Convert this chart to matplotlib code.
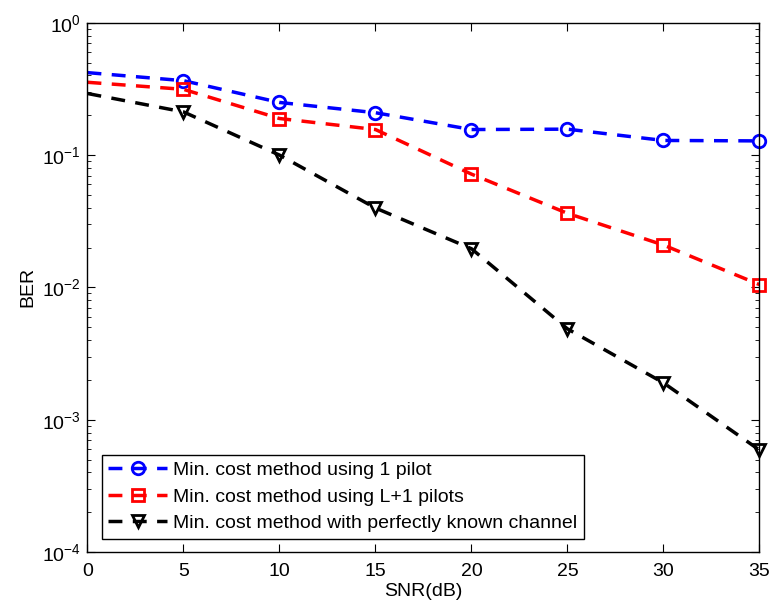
import numpy as np
import matplotlib
matplotlib.use('Agg')
import matplotlib.pyplot as plt
from matplotlib.ticker import LogLocator, NullFormatter

plt.rcParams['font.family'] = ['Liberation Sans', 'DejaVu Sans']
plt.rcParams['mathtext.fontset'] = 'custom'
plt.rcParams['mathtext.rm'] = 'Liberation Sans'
plt.rcParams['mathtext.it'] = 'Liberation Sans:italic'

# SNR points and BER curves
snr = [0, 5, 10, 15, 20, 25, 30, 35]
ber_1pilot = [0.42, 0.365, 0.25, 0.209, 0.156, 0.157, 0.129, 0.128]
ber_l1pilots = [0.355, 0.314, 0.189, 0.156, 0.0718, 0.0363, 0.0209, 0.0105]
ber_known = [0.292, 0.212, 0.100, 0.0398, 0.0196, 0.00486, 0.0019, 0.00059]
labels = ['Min. cost method using 1 pilot',
          'Min. cost method using L+1 pilots',
          'Min. cost method with perfectly known channel']

fig = plt.figure(figsize=(7.75, 6.09), dpi=100, facecolor='white')
ax = fig.add_axes([0.1129, 0.0936, 0.867, 0.869])

# no marker at SNR = 0 in the original
style = dict(linestyle='--', dashes=(4, 3), linewidth=2.5, markersize=9,
             markeredgewidth=2, markerfacecolor='none',
             markevery=list(range(1, len(snr))), clip_on=False)
ax.semilogy(snr, ber_1pilot, color='#0000ff', marker='o', label=labels[0], **style)
ax.semilogy(snr, ber_l1pilots, color='#ff0000', marker='s', label=labels[1], **style)
ax.semilogy(snr, ber_known, color='black', marker='v', label=labels[2], **style)

ax.set_xlim(0, 35)
ax.set_ylim(1e-4, 1)
ax.set_xticks(range(0, 36, 5))
ax.yaxis.set_major_locator(LogLocator(base=10, numticks=10))
ax.yaxis.set_minor_locator(LogLocator(base=10, subs=np.arange(2, 10), numticks=10))
ax.yaxis.set_minor_formatter(NullFormatter())
ax.tick_params(which='both', direction='in', top=True, right=True, labelsize=14)
ax.tick_params(which='major', length=6)
ax.tick_params(which='minor', length=3)
ax.tick_params(axis='x', which='major', pad=8)
ax.tick_params(axis='y', which='major', pad=5)
for s in ax.spines.values():
    s.set_linewidth(1.0)

ax.set_xlabel('SNR(dB)', fontsize=14, labelpad=2)
ax.set_ylabel('BER', fontsize=14, labelpad=4)

leg = ax.legend(loc='lower left', bbox_to_anchor=(0.021, 0.025), fontsize=14,
                fancybox=False, framealpha=1, edgecolor='black',
                handlelength=3.0, handletextpad=0.3, borderpad=0.35,
                labelspacing=0.45, borderaxespad=0)
leg.get_frame().set_linewidth(1.0)

plt.savefig('out.png', dpi=100)
